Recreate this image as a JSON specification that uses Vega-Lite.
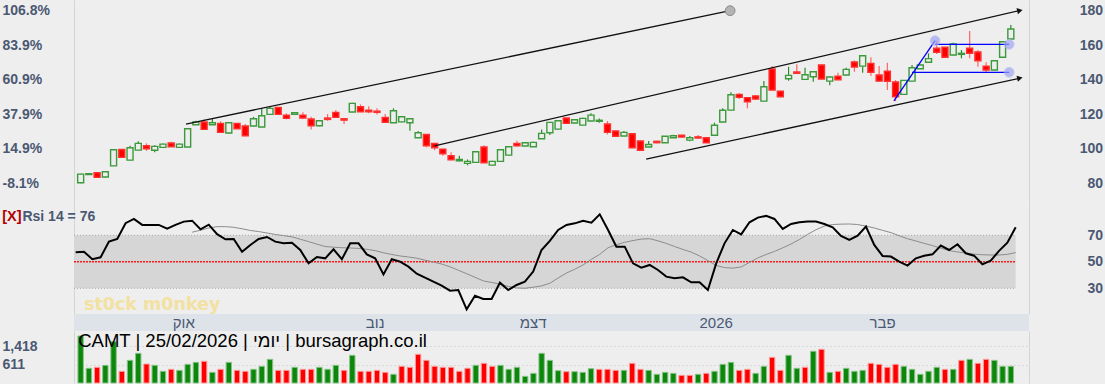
{
"$schema": "https://vega.github.io/schema/vega-lite/v6.json",
"background": "#eeeeee",
"padding": {"left": 2, "top": 0, "right": 2.5, "bottom": 1},
"spacing": 0,
"bounds": "flush",
"config": {
  "view": {"stroke": null},
  "axis": {"labelFont": "Liberation Sans", "labelFontWeight": "bold", "labelFontSize": 14, "labelColor": "#4b5872", "domainColor": "#d4d4d4", "ticks": false, "tickSize": 0, "grid": false, "title": null, "labelOverlap": false, "labelFlush": false, "labelBound": false}
},
"datasets": {
"bars": [
{"i":0,"o":80.3,"h":85.5,"l":80.0,"c":85.3,"v":1876,"vd":"u","r":57.2,"s":null},
{"i":1,"o":85.0,"h":86.0,"l":84.8,"c":85.6,"v":467,"vd":"u","r":57.6,"s":null},
{"i":2,"o":86.1,"h":86.3,"l":83.2,"c":83.4,"v":510,"vd":"d","r":51.9,"s":null},
{"i":3,"o":83.6,"h":87.0,"l":83.4,"c":86.7,"v":597,"vd":"u","r":53.4,"s":null},
{"i":4,"o":90.1,"h":99.6,"l":89.9,"c":99.4,"v":1628,"vd":"u","r":65.2,"s":null},
{"i":5,"o":99.6,"h":99.8,"l":94.8,"c":95.0,"v":335,"vd":"d","r":67.2,"s":null},
{"i":6,"o":93.4,"h":101.7,"l":93.2,"c":100.6,"v":814,"vd":"u","r":79.1,"s":null},
{"i":7,"o":99.2,"h":104.3,"l":99.0,"c":103.1,"v":1120,"vd":"u","r":82.3,"s":null},
{"i":8,"o":101.7,"h":103.1,"l":98.8,"c":100.0,"v":654,"vd":"d","r":77.8,"s":null},
{"i":9,"o":99.1,"h":102.1,"l":97.9,"c":101.4,"v":597,"vd":"u","r":77.8,"s":null},
{"i":10,"o":100.8,"h":103.0,"l":100.6,"c":102.7,"v":335,"vd":"u","r":77.8,"s":null},
{"i":11,"o":103.3,"h":104.0,"l":101.0,"c":101.2,"v":422,"vd":"d","r":75.0,"s":null},
{"i":12,"o":100.8,"h":103.0,"l":100.5,"c":102.7,"v":378,"vd":"u","r":77.8,"s":null},
{"i":13,"o":101.0,"h":111.8,"l":100.8,"c":111.6,"v":640,"vd":"u","r":80.3,"s":null},
{"i":14,"o":113.9,"h":116.2,"l":113.7,"c":115.6,"v":727,"vd":"u","r":81.0,"s":72.3},
{"i":15,"o":115.5,"h":117.0,"l":111.0,"c":111.2,"v":771,"vd":"d","r":74.5,"s":73.8},
{"i":16,"o":113.9,"h":117.4,"l":113.7,"c":115.1,"v":291,"vd":"u","r":78.0,"s":75.5},
{"i":17,"o":114.7,"h":115.9,"l":109.3,"c":109.5,"v":422,"vd":"d","r":70.8,"s":76.5},
{"i":18,"o":109.1,"h":115.3,"l":108.9,"c":115.1,"v":727,"vd":"u","r":67.0,"s":76.5},
{"i":19,"o":114.7,"h":114.9,"l":111.4,"c":111.6,"v":378,"vd":"d","r":67.2,"s":76.0},
{"i":20,"o":113.2,"h":114.3,"l":107.3,"c":107.5,"v":335,"vd":"d","r":57.6,"s":74.9},
{"i":21,"o":113.2,"h":118.5,"l":113.0,"c":117.4,"v":422,"vd":"u","r":62.7,"s":73.6},
{"i":22,"o":112.6,"h":123.4,"l":112.4,"c":119.1,"v":553,"vd":"u","r":67.2,"s":72.8},
{"i":23,"o":119.9,"h":124.3,"l":119.7,"c":123.4,"v":858,"vd":"u","r":68.7,"s":71.7},
{"i":24,"o":124.0,"h":124.2,"l":119.7,"c":119.9,"v":378,"vd":"d","r":65.2,"s":70.6},
{"i":25,"o":119.5,"h":120.5,"l":117.0,"c":117.6,"v":378,"vd":"d","r":63.9,"s":69.7},
{"i":26,"o":119.9,"h":121.1,"l":119.7,"c":120.9,"v":510,"vd":"u","r":64.4,"s":68.8},
{"i":27,"o":119.5,"h":121.1,"l":117.6,"c":117.8,"v":422,"vd":"d","r":58.9,"s":67.0},
{"i":28,"o":117.2,"h":118.5,"l":111.2,"c":113.3,"v":422,"vd":"d","r":48.8,"s":65.2},
{"i":29,"o":113.3,"h":116.4,"l":113.1,"c":116.2,"v":510,"vd":"u","r":53.6,"s":63.3},
{"i":30,"o":117.8,"h":120.1,"l":116.2,"c":117.0,"v":422,"vd":"u","r":52.6,"s":61.5},
{"i":31,"o":121.1,"h":122.4,"l":118.0,"c":118.2,"v":597,"vd":"u","r":59.4,"s":61.0},
{"i":32,"o":117.4,"h":117.6,"l":114.3,"c":116.6,"v":378,"vd":"d","r":51.9,"s":60.6},
{"i":33,"o":121.3,"h":126.6,"l":121.1,"c":126.3,"v":1034,"vd":"u","r":63.9,"s":60.4},
{"i":34,"o":124.3,"h":125.7,"l":121.2,"c":121.4,"v":335,"vd":"d","r":63.9,"s":60.1},
{"i":35,"o":122.4,"h":124.7,"l":120.5,"c":121.4,"v":335,"vd":"d","r":55.6,"s":59.4},
{"i":36,"o":121.8,"h":123.4,"l":119.9,"c":121.1,"v":378,"vd":"d","r":52.6,"s":58.4},
{"i":37,"o":118.2,"h":120.1,"l":115.0,"c":115.3,"v":291,"vd":"d","r":40.5,"s":56.8},
{"i":38,"o":115.1,"h":123.4,"l":114.9,"c":122.0,"v":204,"vd":"u","r":51.9,"s":55.5},
{"i":39,"o":115.6,"h":118.8,"l":115.4,"c":118.5,"v":553,"vd":"d","r":50.1,"s":54.4},
{"i":40,"o":115.1,"h":117.6,"l":110.4,"c":117.4,"v":510,"vd":"d","r":46.3,"s":53.6},
{"i":41,"o":106.4,"h":110.3,"l":106.2,"c":109.3,"v":1077,"vd":"d","r":41.0,"s":52.7},
{"i":42,"o":108.3,"h":108.6,"l":100.8,"c":101.7,"v":814,"vd":"d","r":38.0,"s":51.2},
{"i":43,"o":103.1,"h":103.3,"l":99.1,"c":100.6,"v":553,"vd":"d","r":35.0,"s":49.8},
{"i":44,"o":99.8,"h":100.0,"l":95.9,"c":97.1,"v":510,"vd":"d","r":32.0,"s":48.3},
{"i":45,"o":95.9,"h":97.9,"l":93.4,"c":93.6,"v":510,"vd":"d","r":28.2,"s":46.2},
{"i":46,"o":93.0,"h":95.9,"l":92.8,"c":93.8,"v":335,"vd":"d","r":28.7,"s":43.6},
{"i":47,"o":91.5,"h":93.8,"l":90.4,"c":92.7,"v":467,"vd":"d","r":14.1,"s":41.0},
{"i":48,"o":92.1,"h":98.5,"l":91.9,"c":98.3,"v":597,"vd":"u","r":24.4,"s":38.3},
{"i":49,"o":101.0,"h":102.1,"l":91.7,"c":91.9,"v":684,"vd":"d","r":21.9,"s":35.6},
{"i":50,"o":90.5,"h":93.0,"l":90.3,"c":92.7,"v":553,"vd":"d","r":21.9,"s":34.4},
{"i":51,"o":92.7,"h":99.6,"l":92.5,"c":99.4,"v":597,"vd":"u","r":34.2,"s":33.2},
{"i":52,"o":96.3,"h":101.4,"l":96.1,"c":101.2,"v":422,"vd":"u","r":28.7,"s":31.4},
{"i":53,"o":103.1,"h":104.6,"l":101.2,"c":101.7,"v":510,"vd":"u","r":32.5,"s":30.3},
{"i":54,"o":101.6,"h":103.7,"l":101.4,"c":103.5,"v":116,"vd":"u","r":35.0,"s":30.0},
{"i":55,"o":101.2,"h":104.0,"l":101.0,"c":103.7,"v":247,"vd":"u","r":42.6,"s":30.8},
{"i":56,"o":105.8,"h":111.2,"l":105.6,"c":108.9,"v":1120,"vd":"u","r":58.9,"s":31.8},
{"i":57,"o":109.3,"h":115.5,"l":107.9,"c":115.3,"v":814,"vd":"u","r":65.8,"s":33.8},
{"i":58,"o":111.4,"h":116.4,"l":111.2,"c":116.2,"v":362,"vd":"u","r":74.0,"s":37.8},
{"i":59,"o":117.8,"h":118.0,"l":114.5,"c":114.7,"v":320,"vd":"d","r":77.8,"s":41.5},
{"i":60,"o":114.9,"h":117.1,"l":114.7,"c":116.8,"v":320,"vd":"u","r":79.0,"s":44.4},
{"i":61,"o":113.7,"h":117.9,"l":113.5,"c":117.6,"v":291,"vd":"u","r":81.0,"s":47.6},
{"i":62,"o":116.1,"h":120.5,"l":115.9,"c":119.5,"v":451,"vd":"u","r":79.5,"s":51.9},
{"i":63,"o":115.9,"h":117.6,"l":115.1,"c":116.5,"v":422,"vd":"d","r":85.8,"s":55.6},
{"i":64,"o":114.3,"h":116.1,"l":108.3,"c":109.5,"v":422,"vd":"d","r":74.0,"s":60.6},
{"i":65,"o":110.3,"h":110.6,"l":107.0,"c":107.2,"v":378,"vd":"d","r":61.4,"s":62.9},
{"i":66,"o":107.4,"h":110.3,"l":107.2,"c":109.5,"v":378,"vd":"u","r":61.4,"s":64.7},
{"i":67,"o":108.7,"h":109.0,"l":100.3,"c":100.6,"v":684,"vd":"d","r":48.8,"s":66.0},
{"i":68,"o":104.5,"h":104.7,"l":98.9,"c":99.1,"v":422,"vd":"d","r":45.6,"s":67.1},
{"i":69,"o":101.0,"h":104.5,"l":100.8,"c":102.5,"v":378,"vd":"u","r":47.6,"s":67.4},
{"i":70,"o":104.3,"h":104.6,"l":103.2,"c":103.5,"v":204,"vd":"u","r":43.8,"s":65.8},
{"i":71,"o":103.5,"h":107.4,"l":103.3,"c":107.2,"v":291,"vd":"u","r":38.8,"s":63.8},
{"i":72,"o":106.4,"h":108.1,"l":106.2,"c":107.5,"v":247,"vd":"u","r":37.5,"s":61.5},
{"i":73,"o":107.8,"h":108.1,"l":106.6,"c":106.8,"v":160,"vd":"d","r":38.3,"s":59.3},
{"i":74,"o":105.0,"h":107.4,"l":104.3,"c":106.4,"v":160,"vd":"d","r":34.5,"s":57.3},
{"i":75,"o":106.9,"h":107.9,"l":106.0,"c":106.2,"v":204,"vd":"u","r":34.5,"s":54.4},
{"i":76,"o":106.4,"h":106.6,"l":103.3,"c":103.5,"v":247,"vd":"d","r":28.7,"s":50.9},
{"i":77,"o":107.8,"h":115.1,"l":107.6,"c":113.6,"v":335,"vd":"u","r":48.8,"s":47.2},
{"i":78,"o":115.5,"h":123.4,"l":115.3,"c":122.3,"v":640,"vd":"u","r":63.9,"s":45.6},
{"i":79,"o":122.4,"h":132.7,"l":122.2,"c":131.3,"v":727,"vd":"u","r":74.0,"s":45.2},
{"i":80,"o":131.5,"h":132.3,"l":128.8,"c":129.8,"v":378,"vd":"d","r":70.7,"s":46.1},
{"i":81,"o":129.6,"h":129.8,"l":123.4,"c":127.2,"v":422,"vd":"d","r":79.8,"s":49.5},
{"i":82,"o":130.6,"h":131.1,"l":128.2,"c":128.8,"v":247,"vd":"u","r":83.3,"s":52.9},
{"i":83,"o":127.6,"h":139.2,"l":127.4,"c":135.9,"v":553,"vd":"u","r":84.6,"s":55.5},
{"i":84,"o":146.2,"h":147.9,"l":133.8,"c":134.0,"v":945,"vd":"d","r":82.3,"s":57.8},
{"i":85,"o":133.4,"h":133.6,"l":129.9,"c":130.1,"v":378,"vd":"d","r":74.8,"s":60.5},
{"i":86,"o":140.6,"h":147.5,"l":139.4,"c":142.5,"v":1034,"vd":"u","r":78.5,"s":63.4},
{"i":87,"o":144.5,"h":148.9,"l":143.5,"c":143.7,"v":467,"vd":"u","r":79.8,"s":66.8},
{"i":88,"o":140.2,"h":146.9,"l":140.0,"c":142.9,"v":510,"vd":"d","r":80.3,"s":70.7},
{"i":89,"o":141.7,"h":144.8,"l":138.8,"c":144.6,"v":1208,"vd":"u","r":80.3,"s":74.2},
{"i":90,"o":148.5,"h":148.8,"l":140.2,"c":140.4,"v":1295,"vd":"d","r":78.5,"s":76.9},
{"i":91,"o":139.2,"h":141.8,"l":136.8,"c":141.6,"v":291,"vd":"u","r":76.0,"s":78.1},
{"i":92,"o":142.1,"h":144.1,"l":139.8,"c":140.0,"v":335,"vd":"d","r":69.5,"s":78.4},
{"i":93,"o":142.7,"h":146.9,"l":142.5,"c":146.0,"v":467,"vd":"u","r":66.5,"s":78.5},
{"i":94,"o":150.3,"h":151.2,"l":144.6,"c":147.4,"v":335,"vd":"u","r":69.7,"s":78.1},
{"i":95,"o":147.9,"h":154.2,"l":144.1,"c":153.9,"v":378,"vd":"u","r":76.5,"s":76.9},
{"i":96,"o":149.5,"h":153.0,"l":142.1,"c":144.3,"v":684,"vd":"d","r":62.7,"s":75.5},
{"i":97,"o":142.7,"h":147.9,"l":139.0,"c":139.2,"v":640,"vd":"d","r":54.4,"s":73.7},
{"i":98,"o":145.0,"h":149.9,"l":134.0,"c":139.1,"v":510,"vd":"d","r":53.9,"s":72.0},
{"i":99,"o":138.7,"h":139.8,"l":127.6,"c":130.1,"v":640,"vd":"d","r":50.1,"s":69.6},
{"i":100,"o":131.5,"h":139.9,"l":131.3,"c":139.6,"v":553,"vd":"u","r":47.1,"s":67.4},
{"i":101,"o":139.2,"h":148.5,"l":139.0,"c":146.9,"v":422,"vd":"u","r":52.6,"s":65.7},
{"i":102,"o":146.4,"h":148.8,"l":146.2,"c":148.5,"v":204,"vd":"u","r":54.6,"s":63.9},
{"i":103,"o":150.1,"h":155.3,"l":149.9,"c":152.2,"v":335,"vd":"u","r":55.6,"s":62.2},
{"i":104,"o":158.2,"h":162.6,"l":154.9,"c":155.9,"v":510,"vd":"u","r":62.2,"s":60.3},
{"i":105,"o":158.8,"h":159.0,"l":152.8,"c":153.0,"v":422,"vd":"d","r":58.9,"s":58.5},
{"i":106,"o":154.3,"h":161.4,"l":154.1,"c":160.7,"v":422,"vd":"u","r":63.2,"s":57.4},
{"i":107,"o":154.7,"h":157.2,"l":152.4,"c":155.3,"v":814,"vd":"d","r":56.4,"s":56.6},
{"i":108,"o":158.2,"h":168.2,"l":152.4,"c":155.3,"v":858,"vd":"u","r":54.6,"s":55.7},
{"i":109,"o":156.1,"h":157.2,"l":147.5,"c":151.0,"v":684,"vd":"d","r":48.1,"s":55.3},
{"i":110,"o":147.9,"h":150.1,"l":144.1,"c":145.6,"v":858,"vd":"d","r":50.9,"s":55.1},
{"i":111,"o":145.6,"h":151.3,"l":145.4,"c":151.0,"v":814,"vd":"u","r":58.2,"s":55.1},
{"i":112,"o":153.0,"h":162.3,"l":152.8,"c":162.0,"v":553,"vd":"u","r":64.4,"s":55.6},
{"i":113,"o":163.6,"h":171.7,"l":163.4,"c":169.4,"v":553,"vd":"u","r":76.0,"s":56.9}
]
},
"vconcat": [
{
  "width": 955, "height": 200,
  "layer": [
    {
      "data": {"name": "bars"},
      "mark": {"type": "rule", "strokeWidth": 1.2},
      "encoding": {
        "x": {"field": "i", "type": "quantitative", "scale": {"domain": [-0.2, 114.6], "nice": false, "zero": false}, "axis": null},
        "y": {"field": "l", "type": "quantitative", "scale": {"domain": [70.3, 186.2], "nice": false, "zero": false},
              "axis": {"orient": "left", "values": [80, 100, 120, 140, 160, 180], "labelAlign": "left", "labelPadding": 72,
                       "labelExpr": "datum.value == 180 ? '\u00a0106.8%' : datum.value == 160 ? '\u00a083.9%' : datum.value == 140 ? '\u00a060.9%' : datum.value == 120 ? '\u00a037.9%' : datum.value == 100 ? '\u00a014.9%' : '-8.1%'"}},
        "y2": {"field": "h"},
        "color": {"condition": {"test": "datum.c >= datum.o", "value": "#2a8a2a"}, "value": "#ff6464"}
      }
    },
    {
      "data": {"name": "bars"},
      "mark": {"type": "bar", "width": 6, "strokeWidth": 1.4},
      "encoding": {
        "x": {"field": "i", "type": "quantitative", "axis": null},
        "y": {"field": "o", "type": "quantitative", "axis": {"orient": "right", "values": [80, 100, 120, 140, 160, 180], "labelAlign": "right", "labelPadding": 73.5, "format": "d"}},
        "y2": {"field": "c"},
        "fill": {"condition": {"test": "datum.c >= datum.o", "value": "#eeeeee"}, "value": "#ff0000"},
        "stroke": {"condition": {"test": "datum.c >= datum.o", "value": "#3c9a3c"}, "value": "#ff3030"}
      }
    },
    {
      "data": {"values": [
        {"ln": "A", "i": 12.8, "p": 114.3}, {"ln": "A", "i": 78.9, "p": 180.0},
        {"ln": "B", "i": 43.0, "p": 101.7}, {"ln": "B", "i": 114.0, "p": 180.0},
        {"ln": "C", "i": 68.7, "p": 94.0}, {"ln": "C", "i": 114.0, "p": 140.8},
        {"ln": "D", "i": 98.8, "p": 127.8}, {"ln": "D", "i": 103.8, "p": 162.6},
        {"ln": "E", "i": 103.8, "p": 160.5}, {"ln": "E", "i": 112.8, "p": 160.5},
        {"ln": "F", "i": 101.0, "p": 144.3}, {"ln": "F", "i": 112.8, "p": 144.3}
      ]},
      "mark": {"type": "line", "strokeWidth": 1.3},
      "encoding": {
        "x": {"field": "i", "type": "quantitative", "axis": null},
        "y": {"field": "p", "type": "quantitative", "axis": null},
        "detail": {"field": "ln"},
        "color": {"field": "ln", "type": "nominal", "scale": {"domain": ["A", "B", "C", "D", "E", "F"], "range": ["#111111", "#111111", "#111111", "#0000ff", "#0000ff", "#0000ff"]}, "legend": null}
      }
    },
    {
      "data": {"values": [{"ln": "B", "i": 114.1, "p": 180.1}, {"ln": "C", "i": 114.1, "p": 140.9}]},
      "mark": {"type": "point", "shape": "triangle-right", "filled": true, "size": 40, "angle": -12.5, "color": "#111111", "opacity": 1},
      "encoding": {
        "x": {"field": "i", "type": "quantitative", "axis": null},
        "y": {"field": "p", "type": "quantitative", "axis": null}
      }
    },
    {
      "data": {"values": [{"t": "g", "i": 78.9, "p": 180.0}, {"t": "b", "i": 103.8, "p": 162.6}, {"t": "b", "i": 112.8, "p": 160.5}, {"t": "b", "i": 112.8, "p": 144.3}]},
      "mark": {"type": "point", "shape": "circle", "filled": true, "size": 95, "strokeWidth": 1},
      "encoding": {
        "x": {"field": "i", "type": "quantitative", "axis": null},
        "y": {"field": "p", "type": "quantitative", "axis": null},
        "fill": {"condition": {"test": "datum.t == 'g'", "value": "#b4b4b4"}, "value": "#9ea6f2"},
        "stroke": {"condition": {"test": "datum.t == 'g'", "value": "#8a8a8a"}, "value": "#b4baf4"},
        "opacity": {"condition": {"test": "datum.t == 'g'", "value": 1}, "value": 0.7}
      }
    }
  ],
  "resolve": {"axis": {"y": "independent"}}
},
{
  "width": 955, "height": 114,
  "layer": [
    {
      "data": {"values": [{}]},
      "mark": {"type": "rect", "color": "#d6d6d6"},
      "encoding": {
        "x": {"datum": -0.2, "type": "quantitative", "scale": {"domain": [-0.2, 114.6], "nice": false, "zero": false}, "axis": null},
        "x2": {"datum": 113},
        "y": {"datum": 30, "type": "quantitative", "scale": {"domain": [10.6, 96.6], "nice": false, "zero": false},
              "axis": {"orient": "left", "labels": false, "domain": true}},
        "y2": {"datum": 70}
      }
    },
    {
      "data": {"values": [{"lv": 30}, {"lv": 70}]},
      "mark": {"type": "rule", "color": "#a8a8a8", "strokeDash": [1, 2], "strokeWidth": 1},
      "encoding": {
        "x": {"datum": -0.2, "type": "quantitative", "axis": null},
        "x2": {"datum": 113},
        "y": {"field": "lv", "type": "quantitative", "axis": null}
      }
    },
    {
      "data": {"values": [{"lv": 50}]},
      "mark": {"type": "rule", "color": "#ff1a1a", "strokeDash": [2, 1], "strokeWidth": 1.5},
      "encoding": {
        "x": {"datum": -0.2, "type": "quantitative", "axis": null},
        "x2": {"datum": 113},
        "y": {"field": "lv", "type": "quantitative", "axis": null}
      }
    },
    {
      "data": {"values": [{"t": "st0ck m0nkey"}]},
      "mark": {"type": "text", "align": "left", "baseline": "alphabetic", "font": "DejaVu Sans", "fontWeight": "bold", "fontSize": 17.5, "color": "#f3e1a0"},
      "encoding": {
        "x": {"datum": 1.0, "type": "quantitative", "axis": null},
        "y": {"datum": 13.8, "type": "quantitative", "axis": null},
        "text": {"field": "t"}
      }
    },
    {
      "data": {"name": "bars"},
      "mark": {"type": "line", "color": "#8c8c8c", "strokeWidth": 1},
      "encoding": {
        "x": {"field": "i", "type": "quantitative", "axis": null},
        "y": {"field": "s", "type": "quantitative", "axis": null}
      }
    },
    {
      "data": {"name": "bars"},
      "mark": {"type": "line", "color": "#000000", "strokeWidth": 2},
      "encoding": {
        "x": {"field": "i", "type": "quantitative", "axis": null},
        "y": {"field": "r", "type": "quantitative", "axis": {"orient": "right", "values": [30, 50, 70], "labelAlign": "right", "labelPadding": 73.5, "format": "d"}}
      }
    },
    {
      "data": {"values": [{"t": "[X]"}]},
      "mark": {"type": "text", "align": "left", "baseline": "alphabetic", "font": "Liberation Sans", "fontWeight": "bold", "fontSize": 14.5, "color": "#b30000"},
      "encoding": {
        "x": {"datum": -8.82, "type": "quantitative", "axis": null},
        "y": {"datum": 81.0, "type": "quantitative", "axis": null},
        "text": {"field": "t"}
      }
    },
    {
      "data": {"values": [{"t": "Rsi 14 = 76"}]},
      "mark": {"type": "text", "align": "left", "baseline": "alphabetic", "font": "Liberation Sans", "fontWeight": "bold", "fontSize": 14, "color": "#4b5872"},
      "encoding": {
        "x": {"datum": -6.4, "type": "quantitative", "axis": null},
        "y": {"datum": 81.0, "type": "quantitative", "axis": null},
        "text": {"field": "t"}
      }
    }
  ],
  "resolve": {"axis": {"y": "independent"}}
},
{
  "width": 955, "height": 17,
  "view": {"fill": "#dee3ea", "stroke": null},
  "data": {"values": [{"i": 13, "m": "אוק"}, {"i": 36, "m": "נוב"}, {"i": 55, "m": "דצמ"}, {"i": 77, "m": "2026"}, {"i": 97, "m": "פבר"}]},
  "mark": {"type": "text", "font": "Liberation Sans", "fontSize": 15, "color": "#4b5872", "baseline": "middle", "align": "center"},
  "encoding": {
    "x": {"field": "i", "type": "quantitative", "scale": {"domain": [-0.2, 114.6], "nice": false, "zero": false}, "axis": null},
    "text": {"field": "m"}
  }
},
{
  "width": 955, "height": 52,
  "layer": [
    {
      "data": {"name": "bars"},
      "mark": {"type": "bar", "width": 5.4, "strokeWidth": 1},
      "encoding": {
        "x": {"field": "i", "type": "quantitative", "scale": {"domain": [-0.2, 114.6], "nice": false, "zero": false}, "axis": null},
        "y": {"field": "v", "type": "quantitative", "scale": {"domain": [-174.5, 2094], "nice": false, "zero": false},
              "axis": {"orient": "left", "values": [611, 1418], "format": ",d", "labelAlign": "left", "labelPadding": 72, "grid": true, "gridColor": "#c4c4c4", "gridDash": [1, 3], "gridWidth": 1}},
        "y2": {"datum": -174.5},
        "fill": {"condition": {"test": "datum.vd == 'u'", "value": "#0c870c"}, "value": "#ff0000"},
        "stroke": {"condition": {"test": "datum.vd == 'u'", "value": "#86c486"}, "value": "#ff9a9a"}
      }
    },
    {
      "data": {"values": [{"t": "CAMT | 25/02/2026 | יומי | bursagraph.co.il"}]},
      "mark": {"type": "text", "align": "left", "baseline": "alphabetic", "font": "Liberation Sans", "fontSize": 18.5, "color": "#000000"},
      "encoding": {
        "x": {"datum": -0.3, "type": "quantitative", "axis": null},
        "y": {"datum": 1396, "type": "quantitative", "axis": {"orient": "right", "labels": false, "domain": true}},
        "text": {"field": "t"}
      }
    }
  ],
  "resolve": {"axis": {"y": "independent"}}
}
]
}
